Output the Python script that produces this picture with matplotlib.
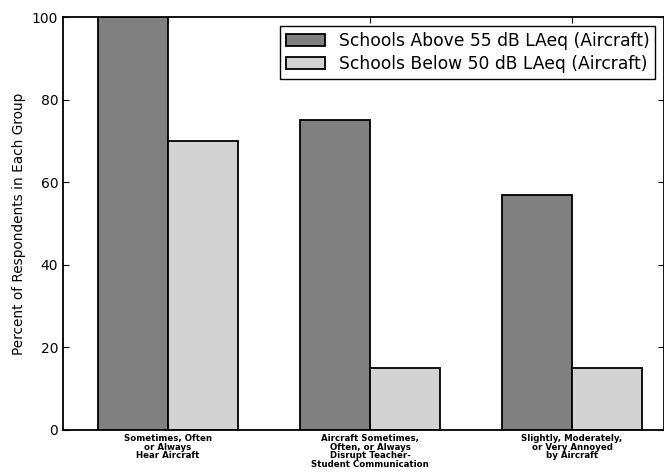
import matplotlib
matplotlib.use("Agg")
import matplotlib.pyplot as plt
import numpy as np

categories = ["Sometimes, Often\nor Always\nHear Aircraft",
              "Aircraft Sometimes,\nOften, or Always\nDisrupt Teacher-\nStudent Communication",
              "Slightly, Moderately,\nor Very Annoyed\nby Aircraft"]
above55 = [100, 75, 57]
below50 = [70, 15, 15]
series_labels = ["Schools Above 55 dB LAeq (Aircraft)", "Schools Below 50 dB LAeq (Aircraft)"]

fig = plt.figure(figsize=(6.64, 4.75), dpi=100)
ax = fig.add_axes([0.095, 0.095, 0.905, 0.869])
x = np.arange(len(categories))
w = 0.347
ax.bar(x - w/2, above55, w, color="#808080", edgecolor="black", linewidth=1.3, label=series_labels[0])
ax.bar(x + w/2, below50, w, color="#d3d3d3", edgecolor="black", linewidth=1.3, label=series_labels[1])
ax.set_xlim(-0.52, 2.455)
ax.set_ylim(0, 100)
ax.set_xticks(x)
ax.set_xticklabels(categories, fontsize=6.2, fontweight="bold", linespacing=0.95)
ax.set_yticks([0, 20, 40, 60, 80, 100])
ax.tick_params(axis="y", labelsize=10)
ax.tick_params(direction="in", top=True, right=True, length=4)
ax.tick_params(axis="x", pad=3)
ax.set_ylabel("Percent of Respondents in Each Group", fontsize=9.8)
for s in ax.spines.values():
    s.set_linewidth(1.3)
leg = ax.legend(loc="upper right", fontsize=12.3, fancybox=False, framealpha=1, edgecolor="black",
                borderaxespad=0.5, handlelength=2.3, borderpad=0.35, labelspacing=0.3)
leg.get_frame().set_linewidth(1.0)
fig.savefig("out.png", dpi=100)
